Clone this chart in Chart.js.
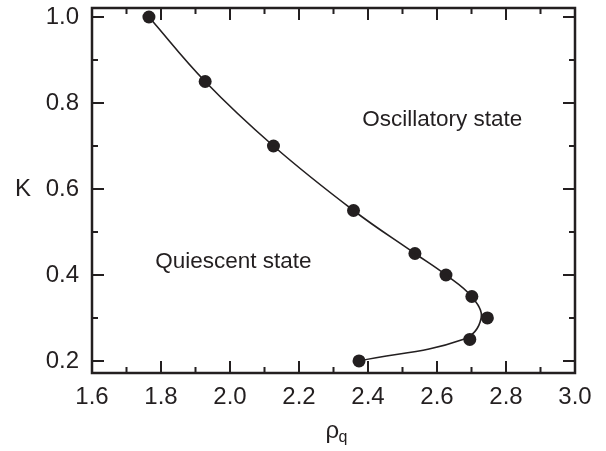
<!DOCTYPE html>
<html>
<head>
<meta charset="utf-8">
<script src="https://cdn.jsdelivr.net/npm/chart.js@4.4.1/dist/chart.umd.min.js"></script>
<style>
  html, body { margin: 0; padding: 0; background: #fff; }
  #wrap { width: 606px; height: 451px; }
</style>
</head>
<body>
<div id="wrap"><canvas id="grafica" width="606" height="451"></canvas></div>
<script>
// --- DATOS ---
const rhoQ = [1.765, 1.928, 2.126, 2.358, 2.536, 2.626, 2.701, 2.746, 2.695, 2.374];
const kVals = [1.00, 0.85, 0.70, 0.55, 0.45, 0.40, 0.35, 0.30, 0.25, 0.20];
// curva suave (no pasa exacto por todos los puntos)
const curvaRho = [1.765, 1.928, 2.126, 2.358, 2.536, 2.626, 2.700, 2.728, 2.675, 2.374];
const curvaK = [1.00, 0.85, 0.70, 0.55, 0.45, 0.40, 0.35, 0.30, 0.25, 0.20];
const xTicks = [1.6, 1.8, 2.0, 2.2, 2.4, 2.6, 2.8, 3.0];
const yTicks = [0.2, 0.4, 0.6, 0.8, 1.0];

const NEGRO = '#231f20';
const FUENTE = '"Liberation Sans", Arial, sans-serif';

// --- PLUGIN: marco, ticks hacia dentro, textos ---
const marcoPlugin = {
  id: 'marco',
  afterDraw(chart) {
    const { ctx, chartArea: a, scales: { x, y } } = chart;
    ctx.save();
    ctx.strokeStyle = NEGRO;
    ctx.lineWidth = 2.5;
    ctx.strokeRect(a.left, a.top, a.right - a.left, a.bottom - a.top);

    ctx.lineWidth = 2;
    const mayor = 12, menor = 6;
    // ticks eje x (abajo y arriba)
    for (let i = 0; i < xTicks.length; i++) {
      const px = x.getPixelForValue(xTicks[i]);
      ctx.beginPath();
      ctx.moveTo(px, a.bottom); ctx.lineTo(px, a.bottom - mayor);
      ctx.moveTo(px, a.top); ctx.lineTo(px, a.top + mayor);
      ctx.stroke();
      if (i < xTicks.length - 1) {
        const pm = x.getPixelForValue((xTicks[i] + xTicks[i + 1]) / 2);
        ctx.beginPath();
        ctx.moveTo(pm, a.bottom); ctx.lineTo(pm, a.bottom - menor);
        ctx.moveTo(pm, a.top); ctx.lineTo(pm, a.top + menor);
        ctx.stroke();
      }
    }
    // ticks eje y (izquierda y derecha)
    for (let i = 0; i < yTicks.length; i++) {
      const py = y.getPixelForValue(yTicks[i]);
      ctx.beginPath();
      ctx.moveTo(a.left, py); ctx.lineTo(a.left + mayor, py);
      ctx.moveTo(a.right, py); ctx.lineTo(a.right - mayor, py);
      ctx.stroke();
      if (i < yTicks.length - 1) {
        const pm = y.getPixelForValue((yTicks[i] + yTicks[i + 1]) / 2);
        ctx.beginPath();
        ctx.moveTo(a.left, pm); ctx.lineTo(a.left + menor, pm);
        ctx.moveTo(a.right, pm); ctx.lineTo(a.right - menor, pm);
        ctx.stroke();
      }
    }

    // textos de regiones
    ctx.fillStyle = NEGRO;
    ctx.font = '22.5px ' + FUENTE;
    ctx.textBaseline = 'middle';
    ctx.textAlign = 'left';
    ctx.fillText('Oscillatory state', x.getPixelForValue(2.383), y.getPixelForValue(0.76));
    ctx.fillText('Quiescent state', x.getPixelForValue(1.783), y.getPixelForValue(0.43));

    // títulos de ejes
    ctx.font = '24px ' + FUENTE;
    ctx.textAlign = 'center';
    ctx.fillText('K', 23, y.getPixelForValue(0.6));
    const cx = (a.left + a.right) / 2;
    ctx.textAlign = 'left';
    ctx.fillText('ρ', cx - 8, 431);
    ctx.font = '16px ' + FUENTE;
    ctx.fillText('q', cx + 5, 438);
    ctx.restore();
  }
};

const sinRelleno = s => { s.paddingTop = 0; s.paddingBottom = 0; s.paddingLeft = 0; s.paddingRight = 0; };

new Chart(document.getElementById('grafica'), {
  type: 'scatter',
  data: {
    datasets: [{
      label: 'curva',
      data: curvaRho.map((v, i) => ({ x: v, y: curvaK[i] })),
      showLine: true,
      borderColor: NEGRO,
      borderWidth: 1.6,
      tension: 0.4,
      pointRadius: 0,
      fill: false
    }, {
      label: 'puntos',
      data: rhoQ.map((v, i) => ({ x: v, y: kVals[i] })),
      showLine: false,
      pointRadius: 6.5,
      pointBackgroundColor: NEGRO,
      pointBorderColor: NEGRO,
      pointBorderWidth: 0
    }]
  },
  options: {
    responsive: false,
    animation: false,
    layout: { padding: { top: 8, right: 31, left: 0, bottom: 0 } },
    plugins: { legend: { display: false }, tooltip: { enabled: false } },
    scales: {
      x: {
        type: 'linear', min: 1.6, max: 3.0,
        afterBuildTicks: s => { s.ticks = xTicks.map(v => ({ value: v })); },
        afterFit: s => { s.height = 78; sinRelleno(s); },
        grid: { display: false, drawTicks: false },
        border: { display: false },
        ticks: { color: NEGRO, font: { size: 24, family: FUENTE }, padding: 10, maxRotation: 0, callback: v => v.toFixed(1) }
      },
      y: {
        type: 'linear', min: 0.172, max: 1.021,
        afterBuildTicks: s => { s.ticks = yTicks.map(v => ({ value: v })); },
        afterFit: s => { s.width = 92; sinRelleno(s); },
        grid: { display: false, drawTicks: false },
        border: { display: false },
        ticks: { color: NEGRO, font: { size: 24, family: FUENTE }, padding: 13, callback: v => v.toFixed(1) }
      }
    }
  },
  plugins: [marcoPlugin]
});
</script>
</body>
</html>
